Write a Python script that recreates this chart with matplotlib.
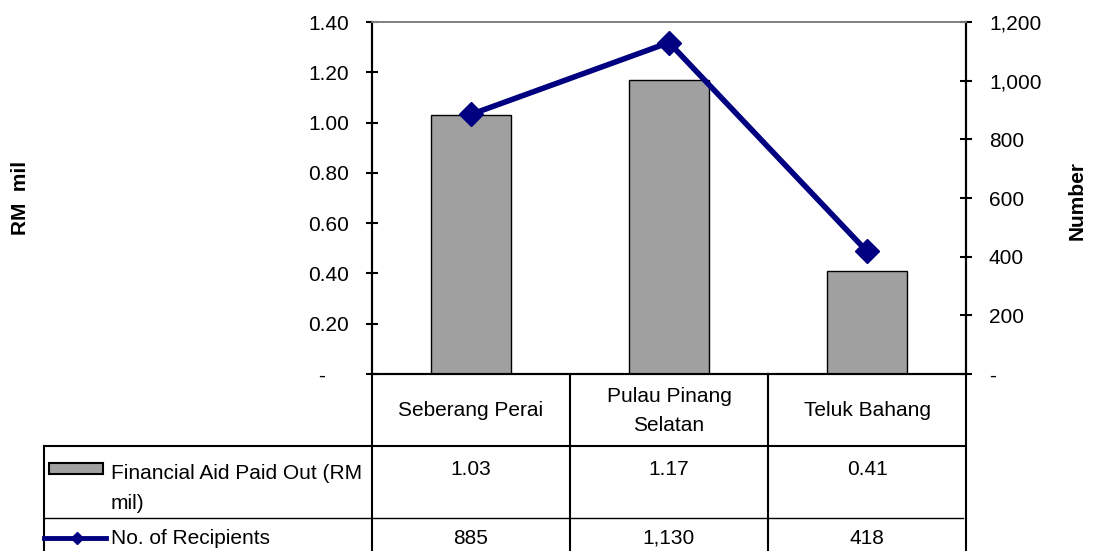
import matplotlib
matplotlib.use("Agg")
import matplotlib.pyplot as plt
from matplotlib.lines import Line2D
from matplotlib.patches import Rectangle
from matplotlib.ticker import FuncFormatter

plt.rcParams["font.family"] = ["Liberation Sans", "DejaVu Sans"]

# Data
districts = ["Seberang Perai", "Pulau Pinang\nSelatan", "Teluk Bahang"]
aid_paid = [1.03, 1.17, 0.41]        # RM mil
recipients = [885, 1130, 418]
aid_text = ["1.03", "1.17", "0.41"]
recipient_text = ["885", "1,130", "418"]
aid_name = "Financial Aid Paid Out (RM\nmil)"
recipient_name = "No. of Recipients"

bar_color = "#a0a0a0"
line_color = "#000080"
W, H = 1099, 551

fig = plt.figure(figsize=(W / 100, H / 100), dpi=100)
ax = fig.add_axes([372 / W, 177 / H, 594 / W, 352 / H])

x = list(range(len(districts)))
ax.bar(x, aid_paid, width=0.4, color=bar_color, edgecolor="black", linewidth=1.0, zorder=2)
ax.set_xlim(-0.5, len(districts) - 0.5)
ax.set_ylim(0, 1.4)
ax.set_yticks([0, 0.2, 0.4, 0.6, 0.8, 1.0, 1.2, 1.4])
ax.yaxis.set_major_formatter(FuncFormatter(lambda v, p: "-    " if abs(v) < 1e-9 else f"{v:.2f}"))
ax.set_xticks([])
ax.tick_params(axis="y", direction="inout", length=9, width=1.5, pad=12, labelsize=15)

ax2 = ax.twinx()
ax2.plot(x, recipients, color=line_color, lw=4, marker="D", ms=12, zorder=3)
ax2.set_ylim(0, 1200)
ax2.set_yticks(range(0, 1201, 200))
ax2.yaxis.set_major_formatter(FuncFormatter(lambda v, p: "-" if v == 0 else f"{int(v):,}"))
ax2.tick_params(axis="y", direction="inout", length=9, width=1.5, pad=12, labelsize=15)

for a in (ax, ax2):
    for side in ("left", "right", "bottom"):
        a.spines[side].set_color("black")
        a.spines[side].set_linewidth(1.5)
    a.spines["top"].set_color("#808080")
    a.spines["top"].set_linewidth(1.3)

fig.text(20 / W, 1 - 198 / H, "RM  mil", rotation=90, ha="center", va="center",
         fontsize=15, fontweight="bold")
fig.text(1077 / W, 1 - 200 / H, "Number", rotation=90, ha="center", va="center",
         fontsize=15, fontweight="bold")

# Data table under the plot (axes fraction coordinates)
tr = ax.transAxes
left_edge = -0.5522
head_bot = -0.2045
row1_bot = -0.4091
fig_bot = -0.5028
cols = [i / len(districts) for i in range(len(districts) + 1)]


def rule(xs, ys, lw=1.5):
    fig.add_artist(Line2D(xs, ys, transform=tr, color="black", lw=lw, clip_on=False))


for c in cols:
    rule([c, c], [0, fig_bot])
rule([left_edge, left_edge], [head_bot, fig_bot])
rule([left_edge, 1], [head_bot, head_bot])
rule([left_edge, 0.995], [row1_bot, row1_bot], lw=1.0)

for i, name in enumerate(districts):
    xc = (cols[i] + cols[i + 1]) / 2
    fig.text(xc, -0.1051, name, transform=tr, ha="center", va="center",
             fontsize=15, linespacing=1.62)
    fig.text(xc, -0.2727, aid_text[i], transform=tr, ha="center", va="center", fontsize=15)
    fig.text(xc, -0.4660, recipient_text[i], transform=tr, ha="center", va="center", fontsize=15)

# Series keys in the table
fig.add_artist(Rectangle((-0.5438, -0.2841), 0.0909, 0.0313, transform=tr,
                         facecolor=bar_color, edgecolor="black", lw=1.5, clip_on=False))
fig.add_artist(Line2D([-0.5522, -0.4478], [-0.4646, -0.4646], transform=tr, color=line_color,
                      lw=3.5, clip_on=False))
fig.add_artist(Line2D([-0.4966], [-0.4646], transform=tr, color=line_color, marker="D",
                      ms=6, lw=0, clip_on=False))
fig.text(-0.4394, -0.3250, aid_name, transform=tr, ha="left", va="center", fontsize=15,
         linespacing=1.78)
fig.text(-0.4394, -0.4660, recipient_name, transform=tr, ha="left", va="center", fontsize=15)

fig.savefig("out.png", dpi=100)
